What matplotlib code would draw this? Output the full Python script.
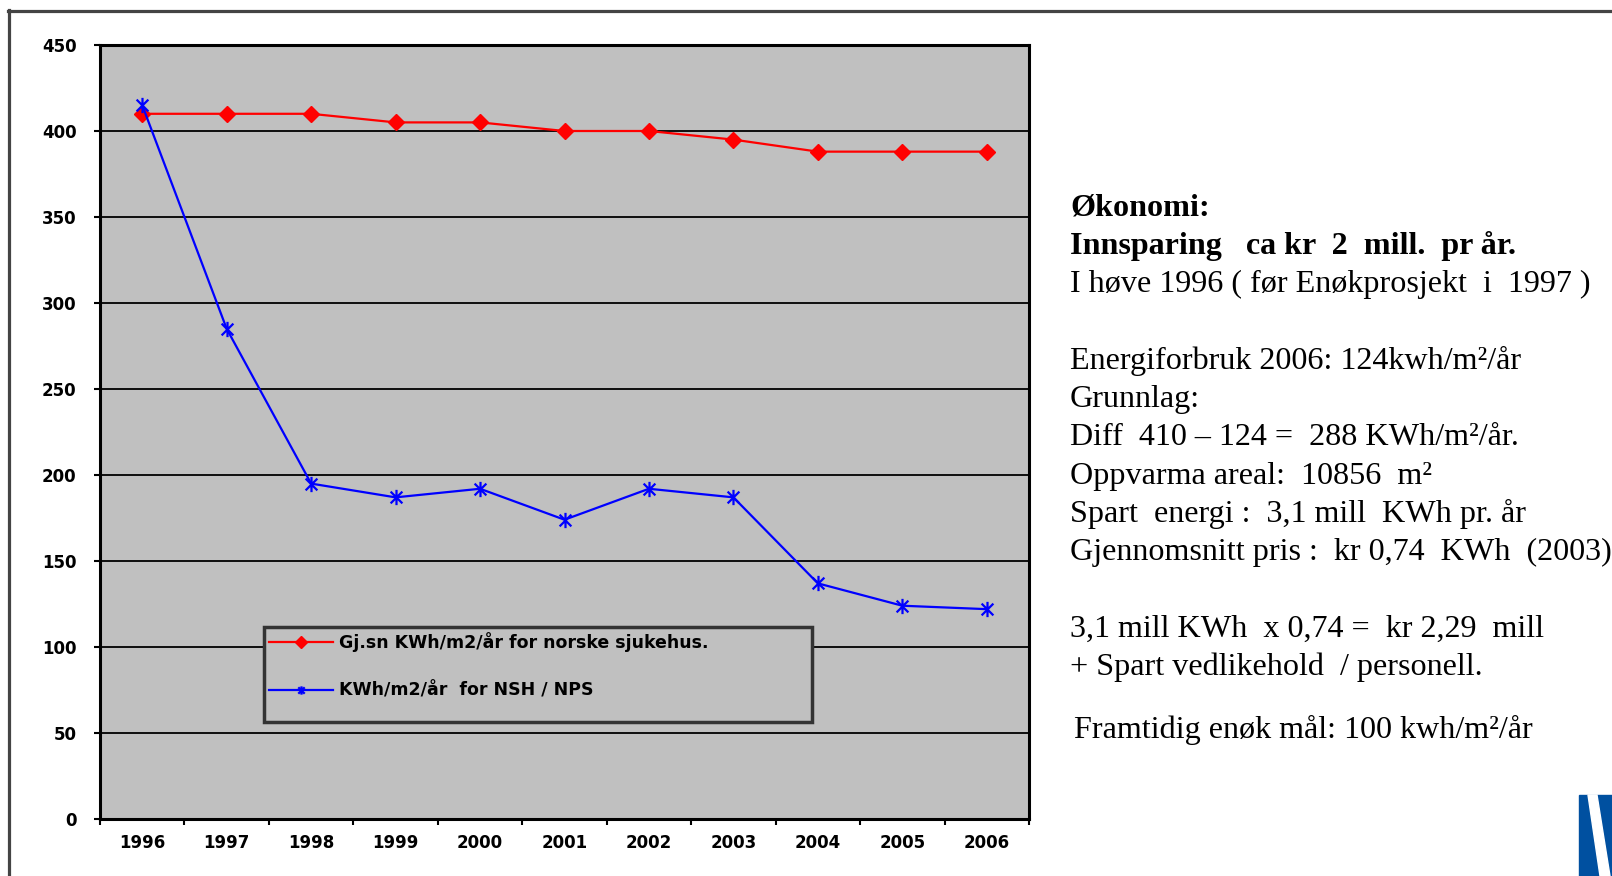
import numpy as np
import matplotlib.pyplot as plt
from matplotlib.path import Path
from matplotlib.lines import Line2D
from matplotlib.patches import Polygon, Rectangle

# data
years = ['1996', '1997', '1998', '1999', '2000', '2001', '2002', '2003', '2004', '2005', '2006']
snitt_norske = [410, 410, 410, 405, 405, 400, 400, 395, 388, 388, 388]
nsh_nps = [415, 285, 195, 187, 192, 174, 192, 187, 137, 124, 122]
lbl_snitt = 'Gj.sn KWh/m2/år for norske sjukehus.'
lbl_nsh = 'KWh/m2/år  for NSH / NPS'

tekst = [
    ('Økonomi:', True),
    ('Innsparing   ca kr  2  mill.  pr år.', True),
    ('I høve 1996 ( før Enøkprosjekt  i  1997 )', False),
    ('', False),
    ('Energiforbruk 2006: 124kwh/m²/år', False),
    ('Grunnlag:', False),
    ('Diff  410 – 124 =  288 KWh/m²/år.', False),
    ('Oppvarma areal:  10856  m²', False),
    ('Spart  energi :  3,1 mill  KWh pr. år', False),
    ('Gjennomsnitt pris :  kr 0,74  KWh  (2003)', False),
    ('', False),
    ('3,1 mill KWh  x 0,74 =  kr 2,29  mill', False),
    ('+ Spart vedlikehold  / personell.', False),
]
maal = 'Framtidig enøk mål: 100 kwh/m²/år'

W, H = 1612, 876
fig = plt.figure(figsize=(W / 100, H / 100), dpi=100)
ax = fig.add_axes([100 / W, 1 - 819 / H, 929 / W, 774 / H])
ax.set_facecolor('#C0C0C0')

x = np.arange(len(years))

# asterisk marker as used by Excel
star = Path([(-1, -1), (1, 1), (-1, 1), (1, -1), (0, -1.3), (0, 1.3)],
            [Path.MOVETO, Path.LINETO, Path.MOVETO, Path.LINETO, Path.MOVETO, Path.LINETO])

ax.plot(x, snitt_norske, color='#FF0000', lw=1.6, marker='D', ms=8.5,
        mec='#FF0000', mfc='#FF0000', label=lbl_snitt, zorder=3)
ax.plot(x, nsh_nps, color='#0000FF', lw=1.6, marker=star, ms=11,
        mec='#0000FF', mew=1.6, label=lbl_nsh, zorder=4)

ax.set_xlim(-0.5, len(years) - 0.5)
ax.set_ylim(0, 450)
ax.set_yticks(np.arange(0, 451, 50))
ax.set_xticks(x)
ax.set_xticklabels(years)
ax.set_xticks(np.arange(-0.5, len(years), 1), minor=True)
ax.grid(axis='y', color='black', lw=1.3)
ax.set_axisbelow(True)

for s in ax.spines.values():
    s.set_linewidth(2.2)
    s.set_color('black')

ax.tick_params(axis='x', which='major', length=0, pad=11)
ax.tick_params(axis='x', which='minor', length=4, width=1.5, direction='out')
ax.tick_params(axis='y', length=4, width=1.5, direction='out', pad=13)
for t in ax.get_xticklabels() + ax.get_yticklabels():
    t.set_fontfamily('DejaVu Sans')
    t.set_fontweight('bold')
    t.set_fontsize(12)

# legend box drawn separately, the entries sit in its upper part
ax.add_patch(Rectangle((0.1765, 0.125), 0.59, 0.123, transform=ax.transAxes,
                       facecolor='#C0C0C0', edgecolor='#333333', lw=2.5, zorder=4.9))
leg = ax.legend(loc='upper left', bbox_to_anchor=(0.1765, 0.248),
                prop={'family': 'DejaVu Sans', 'weight': 'bold', 'size': 12.5},
                frameon=False, handlelength=3.7, handletextpad=0.3, labelspacing=1.7,
                borderpad=0.3, borderaxespad=0)
leg.set_zorder(5)
for h in leg.legend_handles:
    h.set_markersize(6)

# text on the right
for i, (linje, fet) in enumerate(tekst):
    if linje:
        fig.text(1070 / W, 1 - (208 + i * 38.3) / H, linje, fontsize=23.1,
                 family='Liberation Serif', fontweight='bold' if fet else 'normal', va='center')
fig.text(1074 / W, 1 - 730 / H, maal, fontsize=23.1, family='Liberation Serif', va='center')

# outer frame
fig.add_artist(Line2D([8 / W, 1], [1 - 10.5 / H, 1 - 10.5 / H], color='#444444', lw=2.3))
fig.add_artist(Line2D([9 / W, 9 / W], [0, 1 - 10 / H], color='#444444', lw=2.3))

# piece of logo, bottom right
fig.add_artist(Polygon([[1579 / W, 0], [1, 0], [1, 1 - 795 / H], [1579 / W, 1 - 795 / H]],
                       closed=True, color='#0050A0', transform=fig.transFigure))
fig.add_artist(Polygon([[1588 / W, 1 - 795 / H], [1597 / W, 1 - 795 / H], [1610 / W, 0], [1600 / W, 0]],
                       closed=True, color='white', transform=fig.transFigure))

fig.savefig('out.png', dpi=100)
